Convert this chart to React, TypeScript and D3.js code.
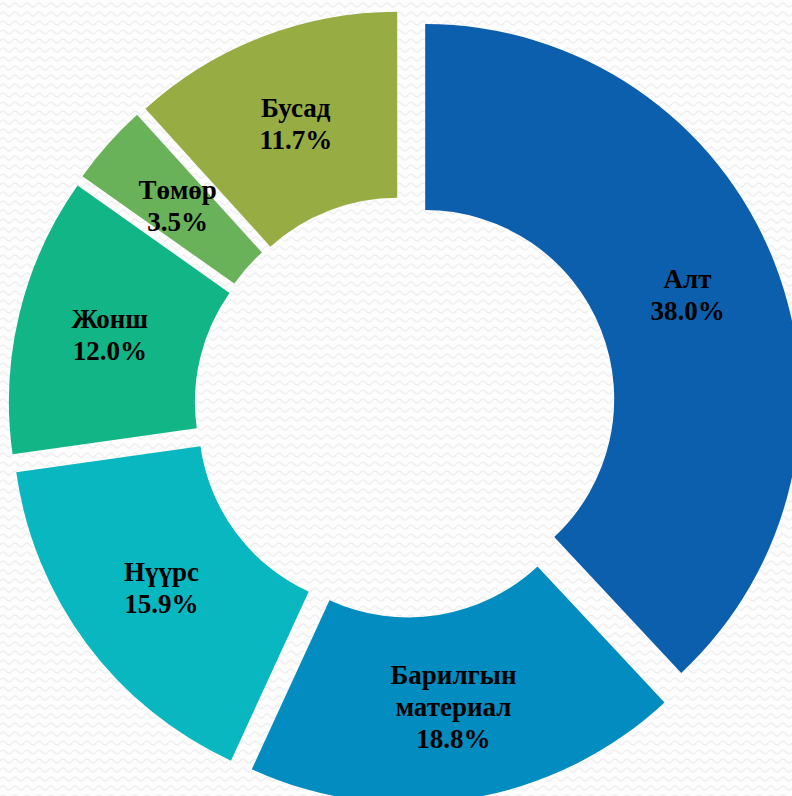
import React from "react";
import * as d3 from "d3";

const categories = ["Алт", "Барилгын материал", "Нүүрс", "Жонш", "Төмөр", "Бусад"];
const labelLines = [["Алт"], ["Барилгын", "материал"], ["Нүүрс"], ["Жонш"], ["Төмөр"], ["Бусад"]];
const values = [38.0, 18.8, 15.9, 12.0, 3.5, 11.7];
const valueLabels = ["38.0%", "18.8%", "15.9%", "12.0%", "3.5%", "11.7%"];
const colors = ["#0C5FAC", "#028CC0", "#09B7C0", "#11B586", "#6AB259", "#97AC42"];

const W = 792;
const H = 796;
const cx = 405;
const cy = 407;
const R = 375;
const r = 189;
const explode = 21.7;
const fontSize = 27;
const lineH = 32;

export default function App() {
  const pie = d3
    .pie<number>()
    .sort(null)
    .startAngle(0)
    .endAngle(2 * Math.PI)
    .value((d) => d);
  const arcs = pie(values);
  const arc = d3.arc<d3.PieArcDatum<number>>().innerRadius(r).outerRadius(R);
  const mid = (a: d3.PieArcDatum<number>) => (a.startAngle + a.endAngle) / 2;

  return (
    <svg
      width={W}
      height={H}
      style={{ position: "absolute", left: 0, top: 0, display: "block" }}
    >
      <defs>
        <pattern id="waves" width="12" height="9" patternUnits="userSpaceOnUse">
          <rect width="12" height="9" fill="#fdfdfd" />
          <path
            d="M0 5 Q3 1 6 5 T12 5"
            fill="none"
            stroke="#f0f0f0"
            strokeWidth="1.5"
          />
        </pattern>
      </defs>
      <rect width={W} height={H} fill="url(#waves)" />
      {arcs.map((a, i) => {
        const m = mid(a);
        const dx = Math.sin(m) * explode;
        const dy = -Math.cos(m) * explode;
        return (
          <path
            key={categories[i]}
            d={arc(a) || ""}
            fill={colors[i]}
            transform={`translate(${cx + dx},${cy + dy})`}
          />
        );
      })}
      {arcs.map((a, i) => {
        const m = mid(a);
        const rho = (r + R) / 2;
        const x = cx + Math.sin(m) * (explode + rho);
        const y = cy - Math.cos(m) * (explode + rho);
        const lines = [...labelLines[i], valueLabels[i]];
        const n = lines.length;
        return (
          <text
            key={"t" + i}
            x={x}
            textAnchor="middle"
            fontFamily="'Liberation Serif', 'DejaVu Serif', serif"
            fontWeight="bold"
            fontSize={fontSize}
            fill="#000"
          >
            {lines.map((ln, j) => (
              <tspan
                key={j}
                x={x}
                y={y + (j - (n - 1) / 2) * lineH + fontSize * 0.33}
              >
                {ln}
              </tspan>
            ))}
          </text>
        );
      })}
    </svg>
  );
}
